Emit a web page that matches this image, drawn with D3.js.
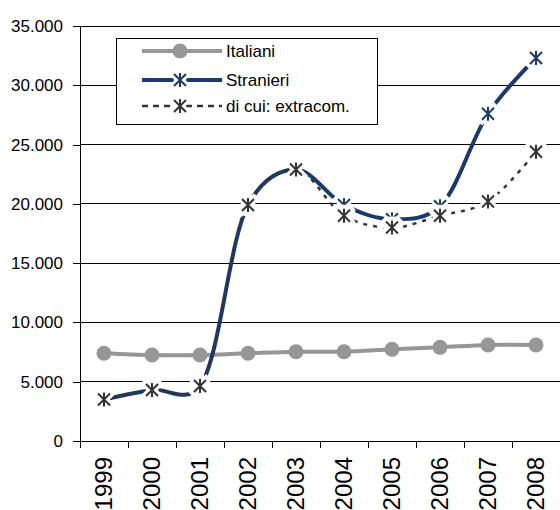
<!DOCTYPE html>
<html><head><meta charset="utf-8">
<script src="https://cdn.jsdelivr.net/npm/d3@7"></script>
<style>body{margin:0;background:#fff}svg{display:block}text{font-family:"Liberation Sans",Arial,sans-serif;fill:#000}</style>
</head><body><svg id="c" width="560" height="510"></svg>
<script>
const years = ["1999","2000","2001","2002","2003","2004","2005","2006","2007","2008"];
const italiani = [7400,7250,7250,7400,7530,7530,7730,7900,8100,8100];
const stranieri = [3500,4300,4640,19900,22900,19900,18700,19800,27600,32300];
const extracom = [3500,4300,4640,19900,22900,19000,18000,19000,20200,24400];
const yTicks = [0,5000,10000,15000,20000,25000,30000,35000];
const legendLabels = ["Italiani","Stranieri","di cui: extracom."];

const W=560,H=510, L=80, R=560, T=26, B=441;
const svg=d3.select("#c");
const x=d3.scaleBand().domain(years).range([L,R]);
const y=d3.scaleLinear().domain([0,35000]).range([B,T]);
const fmt=d3.formatLocale({thousands:".",grouping:[3],decimal:",",currency:["",""]}).format(",");
const navy="#1b3a6b", gray="#969696", dark="#333333";

// gridlines
svg.append("g").selectAll("line").data(yTicks.filter(d=>d>0)).join("line")
  .attr("x1",L).attr("x2",R).attr("y1",d=>y(d)).attr("y2",d=>y(d))
  .attr("stroke","#000").attr("stroke-width",1).attr("shape-rendering","crispEdges");

// y axis
const ya=svg.append("g").attr("transform",`translate(${L},0)`)
  .call(d3.axisLeft(y).tickValues(yTicks).tickFormat(fmt).tickSize(7).tickPadding(10));
ya.select(".domain").attr("d",`M-7,${y(35000)}H0V${B}`).attr("stroke","#000").attr("shape-rendering","crispEdges");
ya.selectAll(".tick line").attr("stroke","#000").attr("shape-rendering","crispEdges");
ya.selectAll("text").style("font-size","17px").style("font-family","Liberation Sans, Arial, sans-serif").attr("fill","#000");

// x axis
svg.append("line").attr("x1",L).attr("x2",R).attr("y1",B).attr("y2",B).attr("stroke","#000").attr("shape-rendering","crispEdges");
svg.append("g").selectAll("line").data(years.concat(["end"])).join("line")
  .attr("x1",(d,i)=>L+i*x.step()).attr("x2",(d,i)=>L+i*x.step())
  .attr("y1",B).attr("y2",B+7).attr("stroke","#000").attr("shape-rendering","crispEdges");
svg.append("g").selectAll("text").data(years).join("text")
  .attr("transform",d=>`translate(${x(d)+x.bandwidth()/2+8},${B+16}) rotate(-90)`)
  .attr("text-anchor","end").style("font-size","24px").text(d=>d);

const cx=d=>x(d)+x.bandwidth()/2;
const line=d3.line().x((d,i)=>cx(years[i])).y(d=>y(d)).curve(d3.curveCatmullRom.alpha(0.25));

// lines
svg.append("path").attr("d",line(italiani)).attr("fill","none").attr("stroke",gray).attr("stroke-width",4);
svg.append("path").attr("d",line(stranieri)).attr("fill","none").attr("stroke",navy).attr("stroke-width",4);
svg.append("path").attr("d",line(extracom)).attr("fill","none").attr("stroke",dark).attr("stroke-width",2.5).attr("stroke-dasharray","4,6");

const starPath=s=>`M${-s},${-s}L${s},${s}M${-s},${s}L${s},${-s}M0,${-s-1}L0,${s+1}`;
function stars(g,data,color){
  const gg=g.append("g");
  gg.selectAll("path.h").data(data).join("path").attr("class","h")
    .attr("transform",(d,i)=>`translate(${cx(years[i])},${y(d)})`)
    .attr("d",starPath(6)).attr("stroke","#fff").attr("stroke-width",8).attr("stroke-linecap","square");
  gg.selectAll("path.s").data(data).join("path").attr("class","s")
    .attr("transform",(d,i)=>`translate(${cx(years[i])},${y(d)})`)
    .attr("d",starPath(6)).attr("stroke",color).attr("stroke-width",2);
}
// markers
svg.append("g").selectAll("circle").data(italiani).join("circle")
  .attr("cx",(d,i)=>cx(years[i])).attr("cy",d=>y(d)).attr("r",7.5).attr("fill",gray);
stars(svg,stranieri,navy);
stars(svg,extracom,dark);

// legend
const lg=svg.append("g");
lg.append("rect").attr("x",116.5).attr("y",38.5).attr("width",261).attr("height",86).attr("fill","#fff").attr("stroke","#000");
const rows=[51,80,106];
lg.append("line").attr("x1",142).attr("x2",222).attr("y1",rows[0]).attr("y2",rows[0]).attr("stroke",gray).attr("stroke-width",4);
lg.append("circle").attr("cx",180).attr("cy",rows[0]).attr("r",7.5).attr("fill",gray);
lg.append("line").attr("x1",142).attr("x2",222).attr("y1",rows[1]).attr("y2",rows[1]).attr("stroke",navy).attr("stroke-width",4);
lg.append("path").attr("transform",`translate(180,${rows[1]})`).attr("d",starPath(6)).attr("stroke","#fff").attr("stroke-width",8).attr("stroke-linecap","square");
lg.append("path").attr("transform",`translate(180,${rows[1]})`).attr("d",starPath(6)).attr("stroke",navy).attr("stroke-width",2);
lg.append("line").attr("x1",142).attr("x2",222).attr("y1",rows[2]).attr("y2",rows[2]).attr("stroke",dark).attr("stroke-width",2.5).attr("stroke-dasharray","6,5");
lg.append("path").attr("transform",`translate(180,${rows[2]})`).attr("d",starPath(6)).attr("stroke","#fff").attr("stroke-width",8).attr("stroke-linecap","square");
lg.append("path").attr("transform",`translate(180,${rows[2]})`).attr("d",starPath(6)).attr("stroke",dark).attr("stroke-width",2);
lg.selectAll("text").data(legendLabels).join("text")
  .attr("x",226).attr("y",(d,i)=>rows[i]+6).style("font-size","17px").text(d=>d);
</script></body></html>
